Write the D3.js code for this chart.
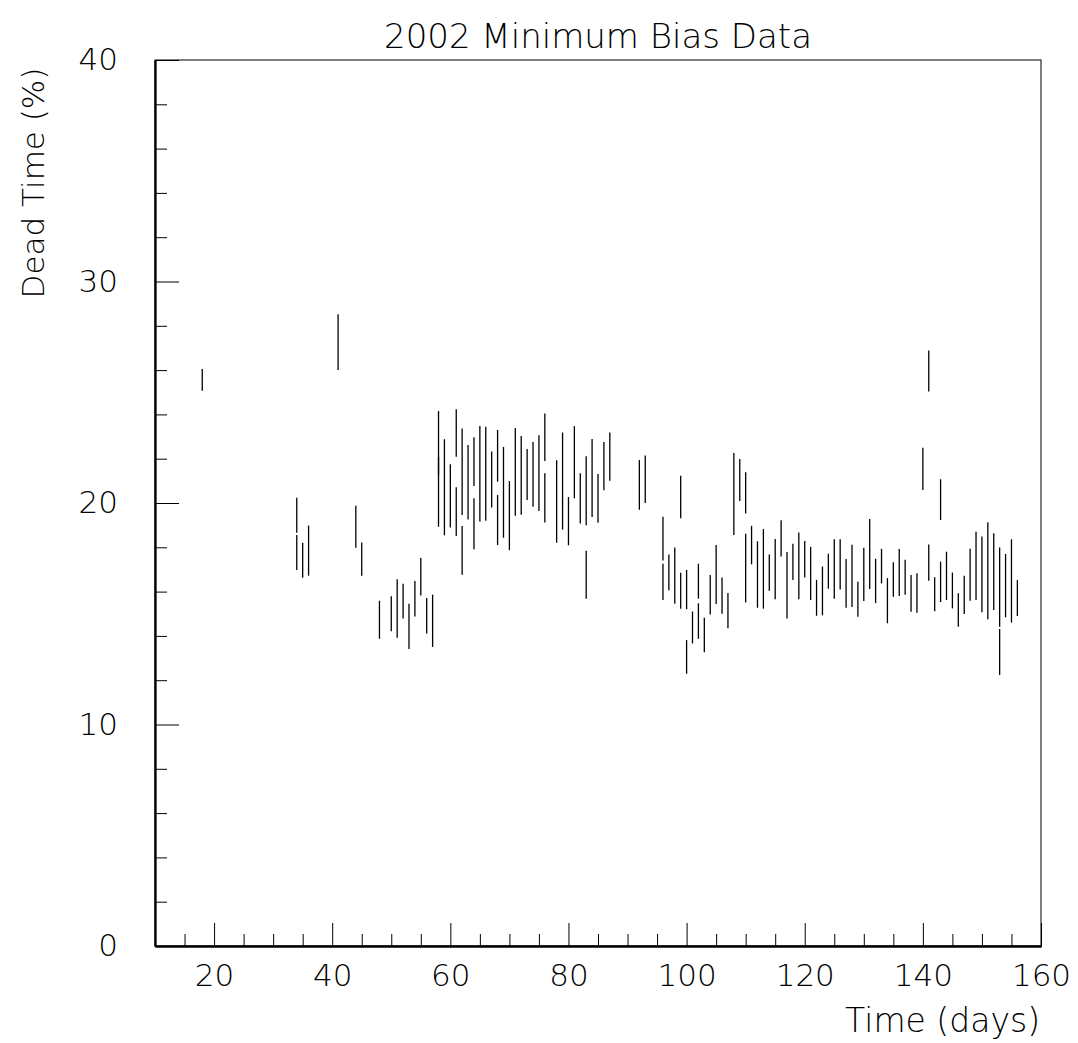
<!DOCTYPE html>
<html>
<head>
<meta charset="utf-8">
<script src="https://cdn.jsdelivr.net/npm/d3@7"></script>
<style>
  html, body { margin: 0; padding: 0; background: #fff; }
  svg text { font-family: "DejaVu Sans", sans-serif; font-weight: 200; fill: #000; }
</style>
</head>
<body>
<svg id="chart" width="1078" height="1043"></svg>
<script>
// Day of each measurement (several runs can share a day)
const days = [18,34,34,35,36,41,44,45,48,50,51,52,53,54,55,56,57,58,58,59,60,61,61,62,62,63,64,64,65,66,67,68,68,69,70,71,72,73,74,75,76,76,78,79,80,81,82,83,83,84,85,86,87,92,93,96,96,97,98,99,99,100,100,101,102,102,103,104,105,106,107,108,109,110,110,111,112,113,114,115,116,117,118,119,120,121,122,123,124,125,126,127,128,129,130,131,132,133,134,135,136,137,138,139,140,141,141,142,143,143,144,145,146,147,148,149,150,151,152,153,153,154,155,156];
// Dead time (%) central values
const deadTime = [25.56,19.45,17.77,17.42,17.85,27.26,18.93,17.47,14.73,15.0,15.24,15.57,14.43,15.68,16.67,14.91,14.68,22.7,20.5,20.71,20.32,23.16,19.61,21.41,17.86,20.94,21.87,19.06,21.32,21.32,21.06,22.13,19.23,20.48,19.43,21.41,21.25,21.29,21.29,21.35,22.97,20.23,20.07,20.99,19.18,21.84,20.21,20.55,16.76,21.13,20.21,21.66,22.09,20.82,21.07,18.39,16.44,16.87,16.72,20.27,16.04,16.09,13.05,14.38,16.47,14.67,14.04,15.86,16.77,15.82,15.14,20.41,21.04,20.46,17.06,18.1,16.77,17.03,16.86,17.01,18.4,16.29,17.34,17.16,17.46,16.82,15.72,16.03,16.92,17.02,17.23,16.37,16.71,15.66,16.78,17.7,16.48,17.15,15.59,16.55,16.86,16.65,15.92,15.94,21.54,25.96,17.31,15.88,20.15,16.44,16.71,16.05,15.17,15.85,16.76,17.16,16.78,16.94,16.9,16.2,13.27,16.27,16.48,15.71];
// Errors on dead time (%)
const deadTimeErr = [0.49,0.79,0.79,0.79,1.13,1.26,0.95,0.75,0.86,0.79,1.32,0.79,1.02,0.8,0.85,0.8,1.18,1.45,1.57,2.17,1.43,1.07,1.1,1.95,1.1,1.68,1.1,1.15,2.16,2.12,1.26,1.17,1.13,2.05,1.56,1.98,1.78,1.15,1.46,1.71,1.07,1.11,1.86,2.19,1.09,1.63,1.13,1.56,1.08,1.76,1.1,1.09,1.09,1.12,1.07,0.99,0.82,0.81,1.27,0.96,0.81,0.89,0.76,0.72,0.79,0.8,0.78,0.89,1.33,0.82,0.8,1.85,0.95,0.93,1.55,0.87,1.5,1.8,0.82,1.36,0.82,1.5,0.82,1.51,0.82,1.2,0.81,1.1,0.79,1.34,1.13,1.1,1.41,0.79,1.2,1.58,1.0,0.78,1.02,0.78,1.06,0.79,0.83,0.89,0.95,0.93,0.82,0.77,0.92,0.91,1.09,0.81,0.76,0.86,1.17,1.54,1.71,2.19,1.73,1.79,1.04,1.43,1.88,0.81];

const xMajorTicks = [20,40,60,80,100,120,140,160];
const xMinorTicks = [15,25,30,35,45,50,55,65,70,75,85,90,95,105,110,115,125,130,135,145,150,155];
const yMajorTicks = [0,10,20,30,40];
const yMinorTicks = [2,4,6,8,12,14,16,18,22,24,26,28,32,34,36,38];

const title = "2002 Minimum Bias Data";
const xTitle = "Time (days)";
const yTitle = "Dead Time (%)";

const svg = d3.select("#chart");
const L = 155, R = 1041, T = 60, B = 946;
const x = d3.scaleLinear().domain([10,160]).range([L,R]);
const y = d3.scaleLinear().domain([0,40]).range([B,T]);

// frame (top/right thin)
svg.append("rect").attr("x",L).attr("y",T).attr("width",R-L).attr("height",B-T)
  .attr("fill","none").attr("stroke","#000").attr("stroke-width",1);

// x axis
const gx = svg.append("g").attr("transform",`translate(0,${B})`);
gx.call(d3.axisBottom(x).tickValues(xMajorTicks).tickSize(-23).tickSizeOuter(0).tickPadding(18).tickFormat(d3.format("d")));
const gxm = svg.append("g").attr("transform",`translate(0,${B})`);
gxm.call(d3.axisBottom(x).tickValues(xMinorTicks).tickSize(-12).tickSizeOuter(0).tickFormat(""));
// y axis
const gy = svg.append("g").attr("transform",`translate(${L},0)`);
gy.call(d3.axisLeft(y).tickValues(yMajorTicks).tickSize(-24).tickSizeOuter(0).tickPadding(37).tickFormat(d3.format("d")));
const gym = svg.append("g").attr("transform",`translate(${L},0)`);
gym.call(d3.axisLeft(y).tickValues(yMinorTicks).tickSize(-12).tickSizeOuter(0).tickFormat(""));

[gx,gxm,gy,gym].forEach(g => {
  g.select(".domain").attr("stroke","#000").attr("stroke-width",1.8);
  g.selectAll(".tick line").attr("stroke","#000").attr("stroke-width",1);
  g.selectAll(".tick text").attr("font-size",31).attr("font-family","DejaVu Sans, sans-serif").attr("font-weight",200).attr("fill","#000");
});

// error bars
const pts = days.map((d,i) => ({d, v: deadTime[i], e: deadTimeErr[i]}));
svg.append("g").selectAll("line.bar").data(pts).join("line")
  .attr("class","bar")
  .attr("x1", p => x(p.d)).attr("x2", p => x(p.d))
  .attr("y1", p => y(p.v - p.e)).attr("y2", p => y(p.v + p.e))
  .attr("stroke","#000").attr("stroke-width",1.3);

// titles
svg.append("text").attr("x",598).attr("y",48).attr("text-anchor","middle")
  .attr("font-size",34).text(title);
svg.append("text").attr("x",1040).attr("y",1032).attr("text-anchor","end")
  .attr("font-size",33).text(xTitle);
svg.append("text").attr("transform","translate(44,183) rotate(-90)")
  .attr("text-anchor","middle").attr("font-size",31).text(yTitle);
</script>
</body>
</html>
